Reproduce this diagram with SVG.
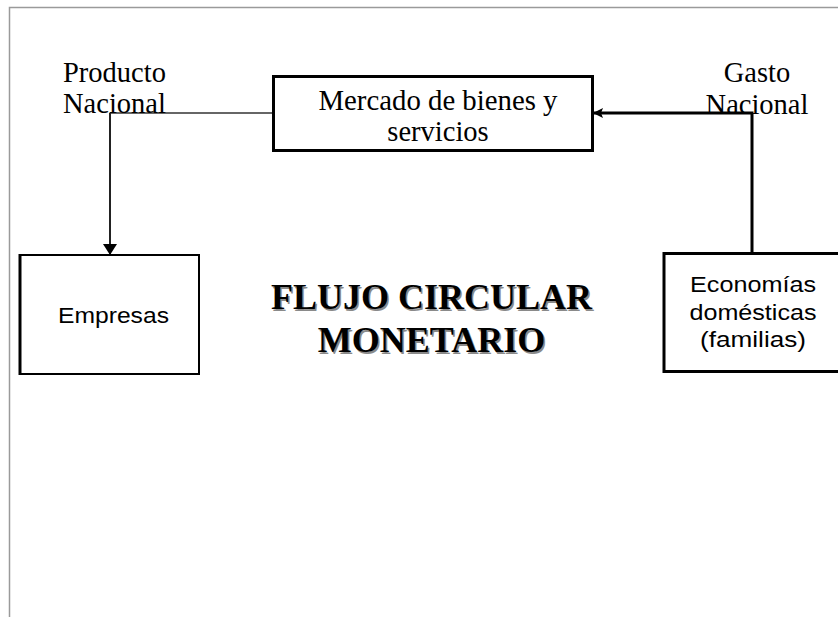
<svg xmlns="http://www.w3.org/2000/svg" width="838" height="617" viewBox="0 0 838 617">
<style>
.serif{font-family:"Liberation Serif","Times New Roman",serif;font-size:28.5px;fill:#000}
.sans{font-family:"Liberation Sans",Arial,sans-serif;font-size:22.5px;fill:#000}
.title{font-family:"Liberation Serif","Times New Roman",serif;font-size:36px;font-weight:bold;text-anchor:middle}
.box{fill:#fff;stroke:#000}
.frame{stroke:#9a9a9a;stroke-width:1.5;fill:none}
</style>
<defs>
<marker id="ahDown" markerWidth="11" markerHeight="14" refX="10" refY="7" orient="auto" markerUnits="userSpaceOnUse" viewBox="0 0 11 14">
<path d="M0,0 L11,7 L0,14 Z" fill="#000"/>
</marker>
<marker id="ahLeft" markerWidth="10" markerHeight="10" refX="9" refY="5" orient="auto" markerUnits="userSpaceOnUse" viewBox="0 0 10 10">
<path d="M0,0 L10,5 L0,10 L2,5 Z" fill="#000"/>
</marker>
</defs>
<rect x="0" y="0" width="838" height="617" fill="#fff"/>
<path class="frame" d="M9.5,617 L9.5,7.5 L838,7.5"/>

<g id="connectors" fill="none">
<path d="M273,113 L110,113" stroke="#666" stroke-width="2"/>
<path d="M110,113 L110,254" stroke="#222" stroke-width="2" marker-end="url(#ahDown)"/>
<path d="M752,253 L752,113 L594,113" stroke="#000" stroke-width="3" marker-end="url(#ahLeft)"/>
</g>

<g id="label-producto">
<text class="serif" x="63" y="82">Producto</text>
<text class="serif" x="63" y="113">Nacional</text>
</g>
<g id="label-gasto">
<text class="serif" x="757" y="82" text-anchor="middle">Gasto</text>
<text class="serif" x="757" y="114" text-anchor="middle">Nacional</text>
</g>

<g id="mercado">
<rect class="box" x="273.5" y="76.5" width="319" height="74" stroke-width="3"/>
<text class="serif" x="438" y="110" text-anchor="middle" textLength="239" lengthAdjust="spacingAndGlyphs">Mercado de bienes y</text>
<text class="serif" x="438" y="141" text-anchor="middle">servicios</text>
</g>

<g id="empresas">
<rect class="box" x="20" y="255" width="179" height="119" stroke-width="2"/>
<line x1="20" y1="254" x2="20" y2="375" stroke="#000" stroke-width="3"/>
<text class="sans" x="113.5" y="323" text-anchor="middle" font-size="23.5" textLength="111" lengthAdjust="spacingAndGlyphs">Empresas</text>
</g>

<g id="economias">
<rect class="box" x="664" y="253.5" width="180" height="118" stroke-width="3"/>
<text class="sans" x="753" y="292" text-anchor="middle" textLength="126" lengthAdjust="spacingAndGlyphs">Economías</text>
<text class="sans" x="753" y="320" text-anchor="middle" textLength="127" lengthAdjust="spacingAndGlyphs">domésticas</text>
<text class="sans" x="753" y="347" text-anchor="middle" textLength="106" lengthAdjust="spacingAndGlyphs">(familias)</text>
</g>

<g id="title">
<text class="title" x="433" y="310.5" fill="#8a8a8a">FLUJO CIRCULAR</text>
<text class="title" x="433" y="353.5" fill="#8a8a8a">MONETARIO</text>
<text class="title" x="431.5" y="309" fill="#000">FLUJO CIRCULAR</text>
<text class="title" x="431.5" y="352" fill="#000">MONETARIO</text>
</g>
</svg>
